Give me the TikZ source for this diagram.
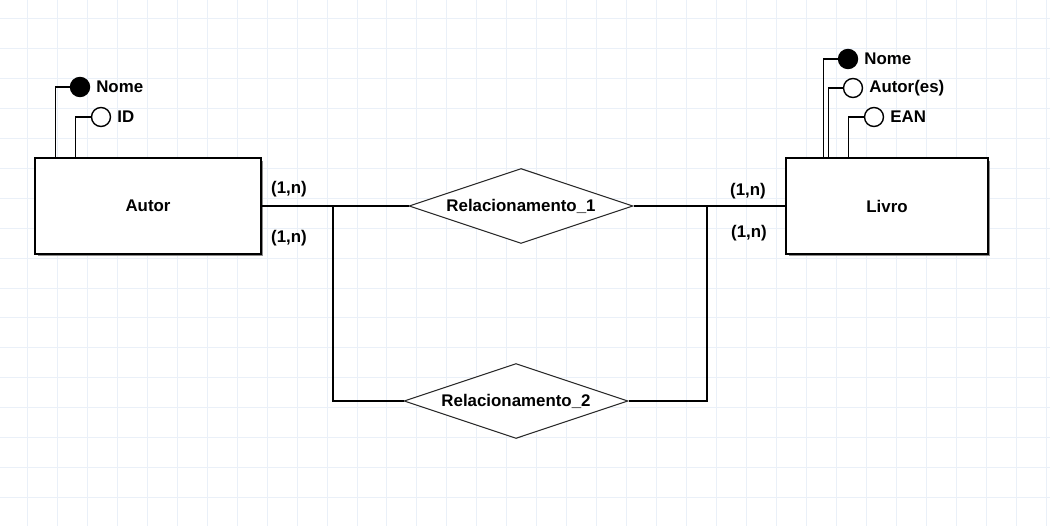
\documentclass[tikz,border=0pt]{standalone}
\usepackage{fontspec}
\setmainfont{Liberation Sans}
\usetikzlibrary{positioning,shapes.geometric,shadows}
\definecolor{gridblue}{RGB}{234,240,248}
\definecolor{shadowgray}{RGB}{140,140,140}

\begin{document}
\begin{tikzpicture}[x=0.02cm,y=-0.02cm,
 ent/.style={draw,thick,fill=white,minimum height=1.92cm,font=\bfseries\fontsize{9.6}{11}\selectfont,general shadow={fill=shadowgray,shadow xshift=0.05cm,shadow yshift=-0.05cm}},
 rel/.style={draw=black!85,line width=0.6pt,diamond,aspect=3,inner sep=0pt,minimum width=4.48cm,minimum height=1.5cm,fill=white,font=\bfseries\fontsize{9.6}{11}\selectfont},
 att/.style={circle,draw,thick,fill=white,minimum size=0.38cm,inner sep=0pt},
 pkatt/.style={att,fill=black},
 lab/.style={font=\bfseries\fontsize{9.6}{11}\selectfont,inner sep=1pt},
 con/.style={thick}]
\useasboundingbox (0,0) rectangle (1050,526);
\fill[white] (0,0) rectangle (1050,526);
\begin{scope}
\clip (0,0) rectangle (1050,526);
\draw[gridblue,line width=0.5pt,xshift=-0.06cm,yshift=0.24cm,step=0.6cm] (0,0) grid (1080,540);
\end{scope}
% entidades
\node[ent,minimum width=4.52cm](autor) at (148,206){Autor};
\node[ent,minimum width=4.04cm](livro) at (887,206){Livro};
% relacionamentos
\node[rel](rel1) at (521,206){Relacionamento\_1};
\node[rel](rel2) at (516,401){Relacionamento\_2};
% atributos
\node[pkatt](anome) at (80,87){};
\node[att](aid) at (101,117){};
\node[lab,right=0.08cm of anome]{Nome};
\node[lab,right=0.08cm of aid]{ID};
\node[pkatt](lnome) at (848,59){};
\node[att](lautor) at (853,88){};
\node[att](lean) at (874,117){};
\node[lab,right=0.08cm of lnome]{Nome};
\node[lab,right=0.08cm of lautor]{Autor(es)};
\node[lab,right=0.08cm of lean]{EAN};
\draw[con]([xshift=0.42cm]autor.north west)|-(anome);
\draw[con]([xshift=0.82cm]autor.north west)|-(aid);
\draw[con]([xshift=0.76cm]livro.north west)|-(lnome);
\draw[con]([xshift=0.86cm]livro.north west)|-(lautor);
\draw[con]([xshift=1.26cm]livro.north west)|-(lean);
% ligacoes
\coordinate(j1) at (333,206);
\coordinate(j2) at (707,206);
\draw[con](autor.east)--(rel1.west);
\draw[con](rel1.east)--(livro.west);
\draw[con](j1)|-(rel2.west);
\draw[con](j2)|-(rel2.east);
% cardinalidades
\node[lab](c1) at (289,189){(1,n)};
\node[lab](c2) at (289,238){(1,n)};
\node[lab](c3) at (748,191){(1,n)};
\node[lab](c4) at (749,233){(1,n)};
\end{tikzpicture}
\end{document}
